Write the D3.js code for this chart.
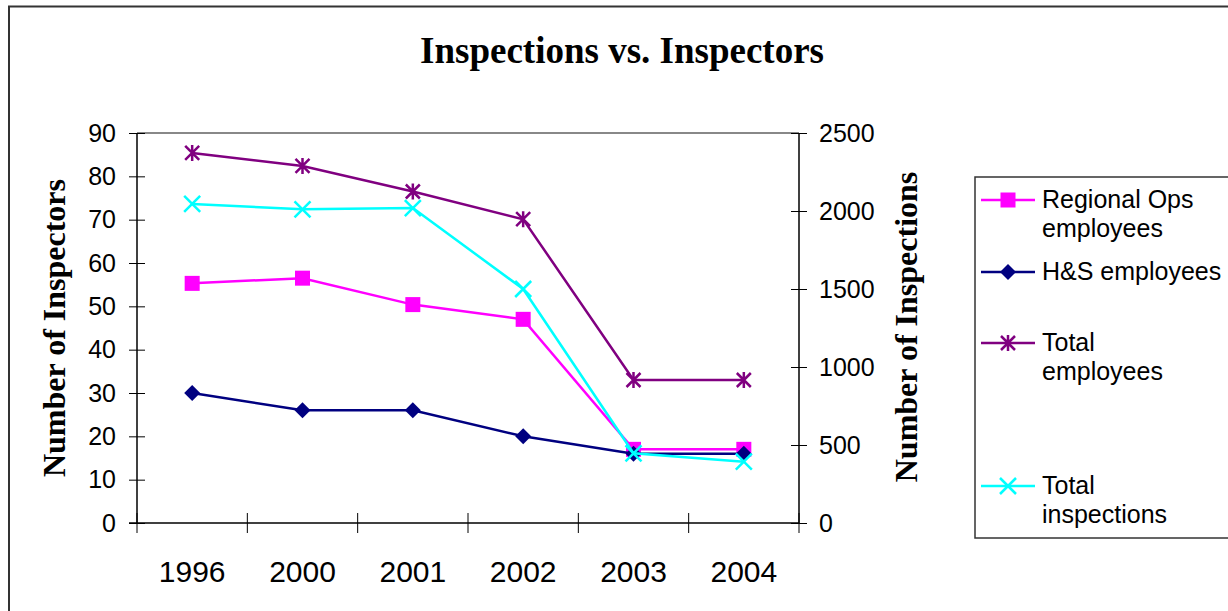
<!DOCTYPE html>
<html>
<head>
<meta charset="utf-8">
<script src="https://cdn.jsdelivr.net/npm/d3@7"></script>
<style>
  body { margin: 0; background: #fff; }
  svg { display: block; }
</style>
</head>
<body>
<script>
// chart data
let years = ["1996", "2000", "2001", "2002", "2003", "2004"];
let regionalOps = [55.3, 56.5, 50.4, 47, 17, 17];
let hsEmployees = [30, 26, 26, 20, 16, 16];
let totalEmployees = [85.4, 82.4, 76.5, 70.1, 33, 33];
let totalInspections = [2045, 2011, 2019, 1500, 447, 393];
let leftTicks = [0, 10, 20, 30, 40, 50, 60, 70, 80, 90];
let rightTicks = [0, 500, 1000, 1500, 2000, 2500];

let W = 1228, H = 611;
let plotLeft = 137, plotRight = 799, plotTop = 133, plotBottom = 523;

let svg = d3.select("body")
            .append("svg")
            .attr("width", W)
            .attr("height", H);

// outer chart border
svg.append("rect")
   .attr("x", 9).attr("y", 6.5)
   .attr("width", 1240).attr("height", 640)
   .attr("fill", "none")
   .attr("stroke", "#333")
   .attr("stroke-width", 2);

svg.append("text")
   .attr("x", 622).attr("y", 63)
   .attr("text-anchor", "middle")
   .style("font-family", "'Liberation Serif', 'Times New Roman', serif")
   .style("font-weight", "bold")
   .style("font-size", "37px")
   .text("Inspections vs. Inspectors");

let x = d3.scaleBand().domain(years).range([plotLeft, plotRight]).padding(0);
let yL = d3.scaleLinear().domain([0, 90]).range([plotBottom, plotTop]);
let yR = d3.scaleLinear().domain([0, 2500]).range([plotBottom, plotTop]);

// top border of plot area
svg.append("line")
   .attr("x1", plotLeft).attr("x2", plotRight)
   .attr("y1", plotTop).attr("y2", plotTop)
   .attr("stroke", "#888").attr("stroke-width", 2);

let tickFont = "Arial, 'Liberation Sans', sans-serif";

// left axis
let gL = svg.append("g")
   .attr("transform", `translate(${plotLeft},0)`)
   .call(d3.axisLeft(yL).tickValues(leftTicks).tickSize(8).tickPadding(13));
gL.selectAll(".tick line").attr("x1", -8).attr("x2", 8).attr("stroke", "#000");
gL.selectAll(".tick text").style("font-family", tickFont).style("font-size", "25px").attr("fill", "#000");
gL.select(".domain").remove();

// right axis
let gR = svg.append("g")
   .attr("transform", `translate(${plotRight},0)`)
   .call(d3.axisRight(yR).tickValues(rightTicks).tickFormat(d3.format("d")).tickSize(8).tickPadding(12));
gR.selectAll(".tick line").attr("x1", -8).attr("x2", 8).attr("stroke", "#000");
gR.selectAll(".tick text").style("font-family", tickFont).style("font-size", "25px").attr("fill", "#000");
gR.select(".domain").remove();

// axis lines
svg.append("line").attr("x1", plotLeft).attr("x2", plotLeft).attr("y1", plotTop).attr("y2", plotBottom)
   .attr("stroke", "#000").attr("stroke-width", 1.5);
svg.append("line").attr("x1", plotRight).attr("x2", plotRight).attr("y1", plotTop).attr("y2", plotBottom)
   .attr("stroke", "#000").attr("stroke-width", 1.5);
svg.append("line").attr("x1", plotLeft - 8).attr("x2", plotRight).attr("y1", plotBottom).attr("y2", plotBottom)
   .attr("stroke", "#000").attr("stroke-width", 1.5);

// category boundary ticks
let bounds = years.map(d => x(d)).concat([x(years[years.length - 1]) + x.bandwidth()]);
svg.selectAll("line.xtick")
   .data(bounds)
   .enter()
   .append("line")
   .attr("class", "xtick")
   .attr("x1", d => d).attr("x2", d => d)
   .attr("y1", plotBottom - 10).attr("y2", plotBottom + 10)
   .attr("stroke", "#000");

svg.selectAll("text.year")
   .data(years)
   .enter()
   .append("text")
   .attr("class", "year")
   .attr("x", d => x(d) + x.bandwidth() / 2)
   .attr("y", 582)
   .attr("text-anchor", "middle")
   .style("font-family", tickFont)
   .style("font-size", "30px")
   .text(d => d);

// axis titles
let titleFont = "'Liberation Serif', 'Times New Roman', serif";
svg.append("text")
   .attr("transform", "translate(65,328) rotate(-90)")
   .attr("text-anchor", "middle")
   .style("font-family", titleFont).style("font-weight", "bold").style("font-size", "32px")
   .text("Number of Inspectors");
svg.append("text")
   .attr("transform", "translate(917,327) rotate(-90)")
   .attr("text-anchor", "middle")
   .style("font-family", titleFont).style("font-weight", "bold").style("font-size", "32px")
   .text("Number of Inspections");

// markers
function drawMarker(g, type, color) {
  if (type == "square") {
    g.append("rect").attr("x", -7.5).attr("y", -7.5).attr("width", 15).attr("height", 15)
     .attr("fill", color);
  } else if (type == "diamond") {
    g.append("path").attr("d", "M0,-8L8,0L0,8L-8,0Z").attr("fill", color);
  } else if (type == "star") {
    g.append("path").attr("d", "M-7,-7L7,7M-7,7L7,-7M0,-8L0,8")
     .attr("stroke", color).attr("stroke-width", 2.5).attr("fill", "none");
  } else if (type == "x") {
    g.append("path").attr("d", "M-8,-8L8,8M-8,8L8,-8")
     .attr("stroke", color).attr("stroke-width", 2.5).attr("fill", "none");
  }
}

let series = [
  {name: ["Regional Ops", "employees"], values: regionalOps, color: "#FF00FF", marker: "square", scale: yL},
  {name: ["H&S employees"], values: hsEmployees, color: "#000080", marker: "diamond", scale: yL},
  {name: ["Total", "employees"], values: totalEmployees, color: "#800080", marker: "star", scale: yL},
  {name: ["Total", "inspections"], values: totalInspections, color: "#00FFFF", marker: "x", scale: yR}
];

series.forEach(s => {
  let line = d3.line()
     .x((d, i) => x(years[i]) + x.bandwidth() / 2)
     .y(d => s.scale(d));
  svg.append("path")
     .datum(s.values)
     .attr("d", line)
     .attr("fill", "none")
     .attr("stroke", s.color)
     .attr("stroke-width", 2.5);
  s.values.forEach((v, i) => {
    let g = svg.append("g")
       .attr("transform", `translate(${x(years[i]) + x.bandwidth() / 2},${s.scale(v)})`);
    drawMarker(g, s.marker, s.color);
  });
});

// legend
svg.append("rect")
   .attr("x", 975).attr("y", 177)
   .attr("width", 300).attr("height", 361)
   .attr("fill", "none").attr("stroke", "#333").attr("stroke-width", 1.5);

let legendY = [200, 272, 343, 486];
series.forEach((s, i) => {
  let y = legendY[i];
  svg.append("line")
     .attr("x1", 981).attr("x2", 1035).attr("y1", y).attr("y2", y)
     .attr("stroke", s.color).attr("stroke-width", 2.5);
  let g = svg.append("g").attr("transform", `translate(1008,${y})`);
  drawMarker(g, s.marker, s.color);
  s.name.forEach((t, j) => {
    svg.append("text")
       .attr("x", 1042).attr("y", y + 8 + j * 29)
       .style("font-family", tickFont).style("font-size", "25px")
       .text(t);
  });
});
</script>
</body>
</html>
